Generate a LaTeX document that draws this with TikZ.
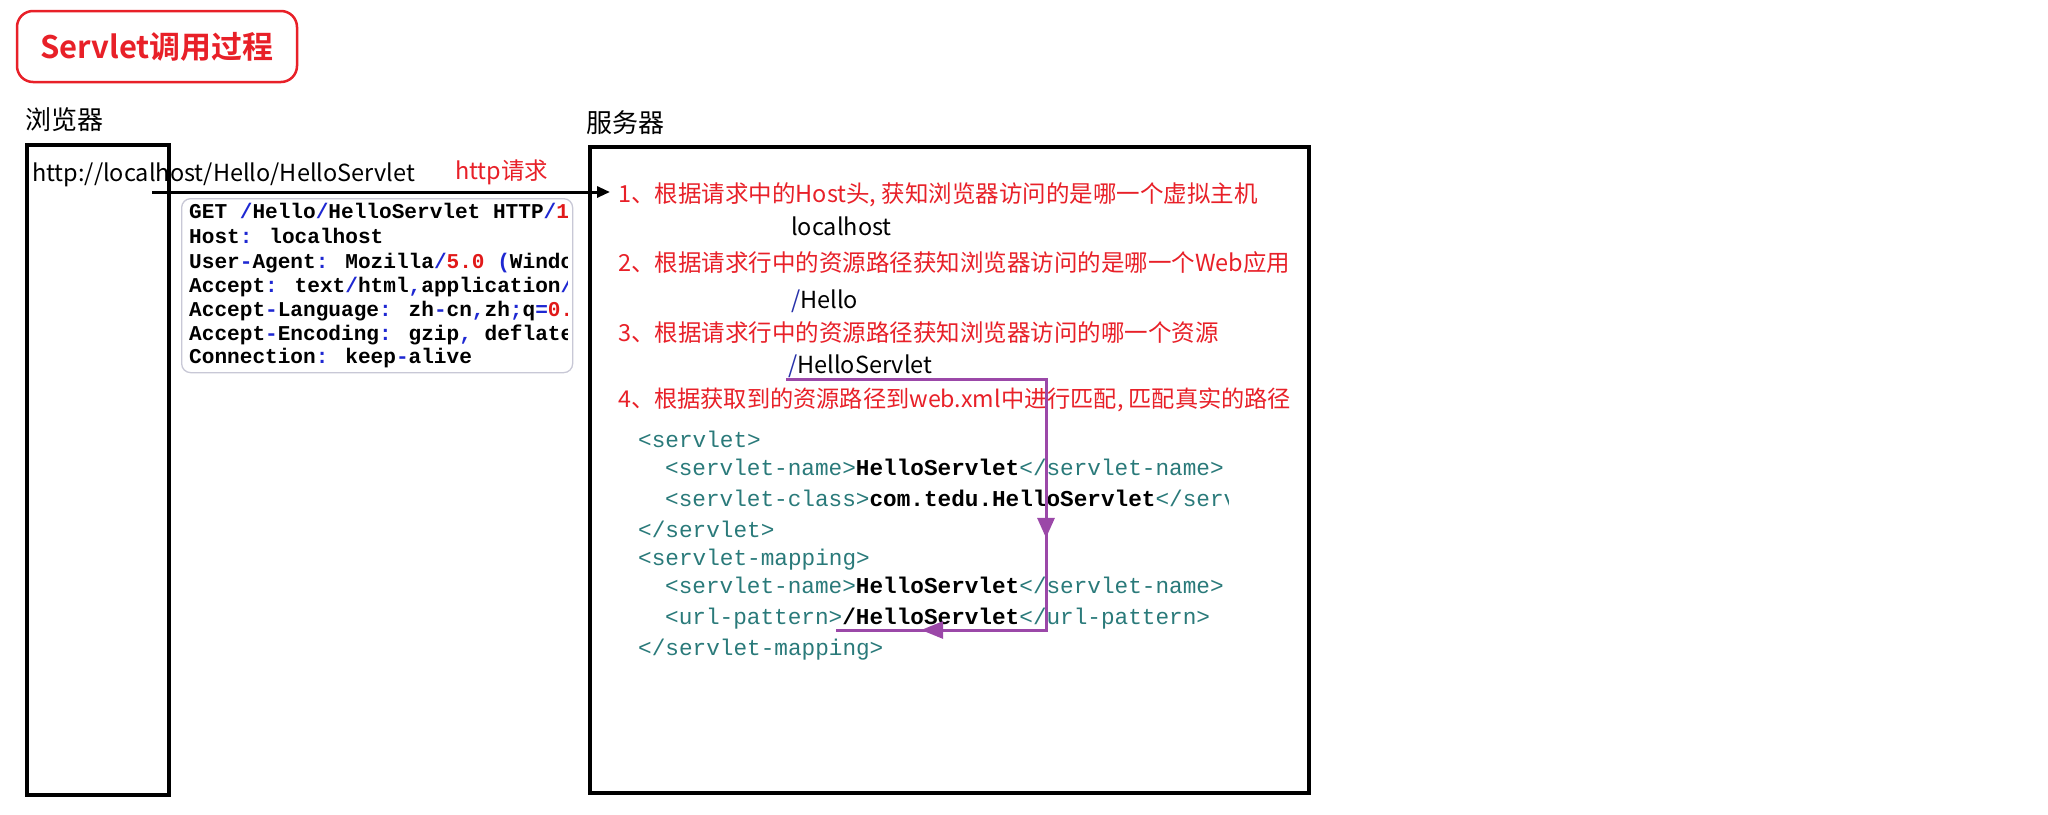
\documentclass[tikz,border=0pt]{standalone}
\usepackage{fontspec}
\usetikzlibrary{arrows.meta,decorations.markings}
\setmainfont{Noto Sans CJK SC}
\newfontfamily\cjk{Noto Sans CJK SC}[BoldFont={Noto Sans CJK SC Bold}]
\newfontfamily\mono{Liberation Mono}
\definecolor{rd}{RGB}{232,32,40}
\definecolor{tl}{RGB}{42,122,122}
\definecolor{opb}{RGB}{30,40,210}
\definecolor{nmr}{RGB}{225,25,25}
\definecolor{pp}{RGB}{155,72,168}
\definecolor{nav}{RGB}{40,50,170}
\definecolor{hbox}{RGB}{200,200,214}
\newcommand\hop[1]{\textcolor{opb}{#1}}
\newcommand\hnum[1]{\textcolor{nmr}{#1}}
\newcommand\xc[1]{\textcolor{black}{\bfseries #1}}
\tikzset{
  txt/.style={inner sep=0pt, anchor=west, text height=0.88em, text depth=0.12em, yshift=-5pt},
  cjktxt/.style={txt, font=\cjk\fontsize{23.5}{28}\selectfont},
  redtxt/.style={cjktxt, text=rd},
  lbl/.style={txt, font=\cjk\fontsize{26}{30}\selectfont},
  frame/.style={draw=black, line width=3.5pt, inner sep=0pt, anchor=north west},
  httpl/.style={inner sep=0pt, anchor=west, text height=0.7em, text depth=0.1em, yshift=-2pt, font=\mono\bfseries\fontsize{21.1}{24}\selectfont},
  xmll/.style={inner sep=0pt, anchor=west, text height=0.7em, text depth=0.1em, yshift=-4pt, font=\mono\fontsize{22.7}{26}\selectfont, text=tl},
  purple arrow/.style={draw=pp, line width=3pt, postaction={decorate},
    decoration={markings,
      mark=at position 0.581 with {\arrow{Triangle[length=20pt,width=17pt]}},
      mark=at position 0.882 with {\arrow{Triangle[length=22pt,width=17pt]}}}},
}
\begin{document}
\begin{tikzpicture}[x=1pt,y=-1pt]
\useasboundingbox (0,0) rectangle (2048,814);
\fill[white] (0,0) rectangle (2048,814);

% title
\node[draw=rd, line width=2.5pt, rounded corners=16pt, minimum width=280pt, minimum height=71pt, inner sep=0pt,
      text=rd, font=\cjk\bfseries\fontsize{31}{36}\selectfont] (title) at (157,46.5) {Servlet调用过程};

% browser
\node[lbl] (blabel) at (25,121) {浏览器};
\node[frame, minimum width=142pt, minimum height=650pt] (browser) at (25,143) {};
\node[cjktxt, font=\cjk\fontsize{23.5}{28}\selectfont] (url) at (32,173) {http://localhost/Hello/HelloServlet};
\node[redtxt] (req) at (455,171) {http请求};

% server
\node[lbl] (slabel) at (586,124) {服务器};
\node[frame, minimum width=719pt, minimum height=646pt] (server) at (588,145) {};

\node[redtxt] (item1) at (618,194) {1、根据请求中的Host头, 获知浏览器访问的是哪一个虚拟主机};
\node[cjktxt] (lh) at (791,227) {localhost};
\node[redtxt] (item2) at (618,263) {2、根据请求行中的资源路径获知浏览器访问的是哪一个Web应用};
\node[cjktxt] (hello) at (791,300) {\textcolor{nav}{/}Hello};
\node[redtxt] (item3) at (618,333) {3、根据请求行中的资源路径获知浏览器访问的哪一个资源};
\node[cjktxt] (hs) at (788,365) {\textcolor{nav}{/}HelloServlet};
\node[redtxt, font=\cjk\fontsize{23.2}{28}\selectfont] (item4) at (618,399) {4、根据获取到的资源路径到web.xml中进行匹配, 匹配真实的路径};

% http request box
\node[draw=hbox, line width=1.3pt, rounded corners=9pt, minimum width=391pt, minimum height=174pt, inner sep=0pt, anchor=north west] (hreq) at (181,198) {};
\begin{scope}
\clip (182,199) rectangle (567,371);
\node[httpl] (h1) at (189,213) {GET \hop{/}Hello\hop{/}HelloServlet HTTP\hop{/}\hnum{1.1}};
\node[httpl] (h2) at (189,238) {Host\hop{:} localhost};
\node[httpl] (h3) at (189,263) {User\hop{-}Agent\hop{:} Mozilla\hop{/}\hnum{5.0} \hop{(}Windows NT};
\node[httpl] (h4) at (189,287) {Accept\hop{:} text\hop{/}html\hop{,}application\hop{/}xhtml};
\node[httpl] (h5) at (189,311) {Accept\hop{-}Language\hop{:} zh\hop{-}cn\hop{,}zh\hop{;}q\hop{=}\hnum{0.5}};
\node[httpl] (h6) at (189,335) {Accept\hop{-}Encoding\hop{:} gzip\hop{,} deflate};
\node[httpl] (h7) at (189,358) {Connection\hop{:} keep\hop{-}alive};
\end{scope}

% request arrow
\coordinate (a1) at (152,192);
\draw[line width=3pt, -{Triangle[length=13pt,width=11pt]}, shorten >=8pt] (a1) -- (a1 -| item1.west);

% web.xml
\node[xmll] (x1) at (638,440) {<servlet>};
\node[xmll] (x2) at (665,468) {<servlet-name>\xc{HelloServlet}</servlet-name>};
\begin{scope}
\clip (600,480) rectangle (1228,520);
\node[xmll] (x3) at (665,499) {<servlet-class>\xc{com.tedu.HelloServlet}</servlet-class>};
\end{scope}
\node[xmll] (x4) at (638,530) {</servlet>};
\node[xmll] (x5) at (638,558) {<servlet-mapping>};
\node[xmll] (x6) at (665,586) {<servlet-name>\xc{HelloServlet}</servlet-name>};
\node[xmll] (x7) at (665,617) {<url-pattern>\xc{/HelloServlet}</url-pattern>};
\node[xmll] (x8) at (638,648) {</servlet-mapping>};

% purple matching path
\coordinate (p0) at (786,379);
\coordinate (p1) at (1046,379);
\coordinate (p2) at (1046,630);
\coordinate (p3) at (836,630);
\draw[purple arrow] (p0) -- (p1) -- (p2) -- (p3);
\end{tikzpicture}
\end{document}
